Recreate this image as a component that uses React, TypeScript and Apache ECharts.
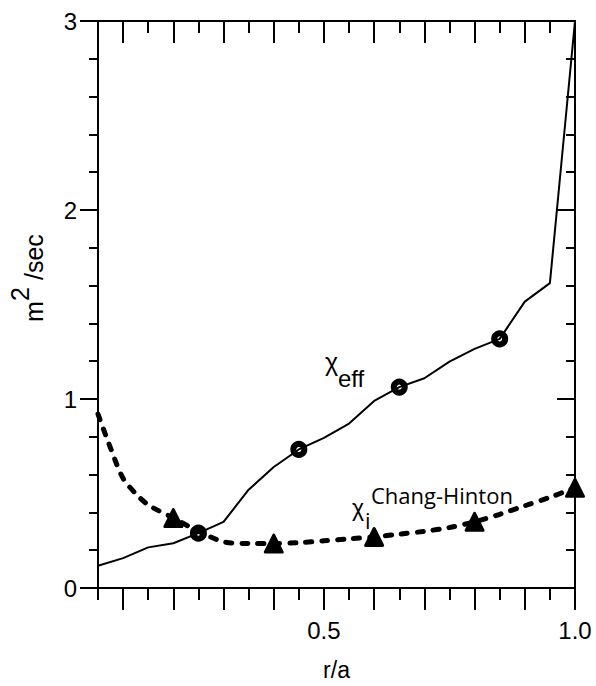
import React, { useEffect, useRef } from "react";
import * as echarts from "echarts";

// r/a positions and values of the effective diffusivity (solid line)
const rOverA = [0.05, 0.1, 0.15, 0.2, 0.25, 0.3, 0.35, 0.4, 0.45, 0.5, 0.55, 0.6, 0.65, 0.7, 0.75, 0.8, 0.85, 0.9, 0.95, 1.0];
const chiEff = [0.118, 0.158, 0.215, 0.237, 0.29, 0.35, 0.52, 0.64, 0.733, 0.794, 0.87, 0.99, 1.063, 1.11, 1.198, 1.265, 1.318, 1.515, 1.613, 3.0];

// r/a positions and values of the Chang-Hinton neoclassical diffusivity (dashed line)
const rOverADashed = [0.05, 0.075, 0.1, 0.125, 0.15, 0.2, 0.25, 0.3, 0.35, 0.4, 0.45, 0.5, 0.55, 0.6, 0.65, 0.7, 0.75, 0.8, 0.85, 0.9, 0.95, 1.0];
const chiChangHinton = [0.92, 0.74, 0.58, 0.5, 0.44, 0.37, 0.3, 0.245, 0.235, 0.235, 0.24, 0.25, 0.26, 0.27, 0.285, 0.3, 0.32, 0.35, 0.39, 0.435, 0.48, 0.53];

// marker positions
const circleMarkerR = [0.25, 0.45, 0.65, 0.85];
const triangleMarkerR = [0.2, 0.4, 0.6, 0.8, 1.0];

// ticks
const xMajorTicks = [0.1, 0.2, 0.3, 0.4, 0.5, 0.6, 0.7, 0.8, 0.9, 1.0];
const xMinorTicks = [0.05, 0.15, 0.25, 0.35, 0.45, 0.55, 0.65, 0.75, 0.85, 0.95];
const xTickLabels = [0.5, 1.0];
const yMin = 0;
const yMax = 3;
const yInterval = 1;

const SANS = "'Liberation Sans', Arial, sans-serif";
const OPEN = "'Open Sans', 'Noto Sans', sans-serif";

function lookup(xs: number[], ys: number[], x: number): number {
  const i = xs.findIndex((v) => Math.abs(v - x) < 1e-9);
  return ys[i];
}

export default function App() {
  const ref = useRef<HTMLDivElement>(null);

  useEffect(() => {
    if (!ref.current) return;
    const chart = echarts.init(ref.current, null, { renderer: "svg" });

    const axisLine = { show: true, lineStyle: { color: "#000", width: 2 } };
    const baseX = {
      type: "value" as const,
      min: 0.05,
      max: 1.0,
      splitLine: { show: false },
    };

    const xAxes = [
      {
        ...baseX,
        position: "bottom",
        axisLine,
        axisTick: { show: true, customValues: xMajorTicks, length: 22, inside: false, lineStyle: { color: "#000", width: 2 } },
        axisLabel: {
          show: true,
          customValues: xTickLabels,
          formatter: (v: number) => v.toFixed(1),
          fontSize: 24,
          fontFamily: SANS,
          color: "#000",
          margin: 30,
        },
        name: "r/a",
        nameLocation: "middle",
        nameGap: 70,
        nameTextStyle: { fontSize: 23, fontFamily: SANS, color: "#000" },
      },
      {
        ...baseX,
        position: "bottom",
        axisLine: { show: false },
        axisTick: { show: true, customValues: xMinorTicks, length: 12, inside: false, lineStyle: { color: "#000", width: 2 } },
        axisLabel: { show: false },
      },
      {
        ...baseX,
        position: "top",
        axisLine,
        axisTick: { show: true, customValues: xMajorTicks, length: 22, inside: true, lineStyle: { color: "#000", width: 2 } },
        axisLabel: { show: false },
      },
      {
        ...baseX,
        position: "top",
        axisLine: { show: false },
        axisTick: { show: true, customValues: xMinorTicks, length: 12, inside: true, lineStyle: { color: "#000", width: 2 } },
        axisLabel: { show: false },
      },
    ];

    const yAxes = [
      {
        type: "value",
        position: "left",
        min: yMin,
        max: yMax,
        interval: yInterval,
        axisLine,
        axisTick: { show: true, length: 18, inside: false, lineStyle: { color: "#000", width: 2 } },
        minorTick: { show: true, splitNumber: 5, length: 9, lineStyle: { color: "#000", width: 2 } },
        axisLabel: { show: true, fontSize: 24, fontFamily: SANS, color: "#000", margin: 21 },
        splitLine: { show: false },
        minorSplitLine: { show: false },
      },
      {
        type: "value",
        position: "right",
        min: yMin,
        max: yMax,
        interval: yInterval,
        axisLine,
        axisTick: { show: true, length: 18, inside: true, lineStyle: { color: "#000", width: 2 } },
        minorTick: { show: true, splitNumber: 5, length: 9, lineStyle: { color: "#000", width: 2 } },
        axisLabel: { show: false },
        splitLine: { show: false },
        minorSplitLine: { show: false },
      },
    ];

    const solidData = rOverA.map((x, i) => [x, chiEff[i]]);
    const dashedData = rOverADashed.map((x, i) => [x, chiChangHinton[i]]);
    const circleData = circleMarkerR.map((x) => [x, lookup(rOverA, chiEff, x)]);
    const triangleData = triangleMarkerR.map((x) => [x, lookup(rOverADashed, chiChangHinton, x)]);

    const yTitle = {
      type: "group",
      x: 43,
      y: 322,
      rotation: Math.PI / 2,
      children: [
        { type: "text", x: 0, y: -8.75, style: { text: "m", fontSize: 25, fontFamily: SANS, fill: "#000", align: "left", verticalAlign: "middle" } },
        { type: "text", x: 21, y: -23.5, style: { text: "2", fontSize: 25, fontFamily: SANS, fill: "#000", align: "left", verticalAlign: "middle" } },
        { type: "text", x: 35, y: -8.75, style: { text: " /sec", fontSize: 25, fontFamily: SANS, fill: "#000", align: "left", verticalAlign: "middle" } },
      ],
    };

    chart.setOption({
      animation: false,
      backgroundColor: "#fff",
      grid: { left: 98, right: 21, top: 21, bottom: 96, containLabel: false },
      xAxis: xAxes,
      yAxis: yAxes,
      series: [
        {
          type: "line",
          data: solidData,
          showSymbol: false,
          symbol: "none",
          lineStyle: { color: "#000", width: 2 },
          itemStyle: { color: "#000" },
          z: 2,
        },
        {
          type: "line",
          data: dashedData,
          showSymbol: false,
          symbol: "none",
          smooth: 0.3,
          lineStyle: { color: "#000", width: 5, type: [6, 10], cap: "round" },
          itemStyle: { color: "#000" },
          z: 3,
        },
        {
          type: "scatter",
          data: circleData,
          symbol: "circle",
          symbolSize: 11,
          itemStyle: { color: "rgba(0,0,0,0)", borderColor: "#000", borderWidth: 6, opacity: 1 },
          z: 4,
        },
        {
          type: "scatter",
          data: triangleData,
          symbol: "triangle",
          symbolSize: [17, 17],
          itemStyle: { color: "#000", borderColor: "#000", borderWidth: 3, borderJoin: "round", opacity: 1 },
          z: 5,
        },
      ],
      graphic: [
        yTitle,
        { type: "text", x: 325, y: 361.5, style: { text: "χ", fontSize: 25, fontFamily: SANS, fill: "#000", align: "left", verticalAlign: "middle" } },
        { type: "text", x: 338, y: 378.5, style: { text: "eff", fontSize: 24, fontFamily: SANS, fill: "#000", align: "left", verticalAlign: "middle" } },
        { type: "text", x: 352, y: 508, style: { text: "χ", fontSize: 23, fontFamily: SANS, fill: "#000", align: "left", verticalAlign: "middle" } },
        { type: "text", x: 365, y: 520, style: { text: "i", fontSize: 22, fontFamily: OPEN, fill: "#000", align: "left", verticalAlign: "middle" } },
        { type: "text", x: 371, y: 494.5, style: { text: "Chang-Hinton", fontSize: 22, fontFamily: OPEN, fill: "#000", align: "left", verticalAlign: "middle" } },
      ],
    });

    return () => chart.dispose();
  }, []);

  return <div ref={ref} style={{ position: "fixed", left: 0, top: 0, width: 596, height: 686 }} />;
}
